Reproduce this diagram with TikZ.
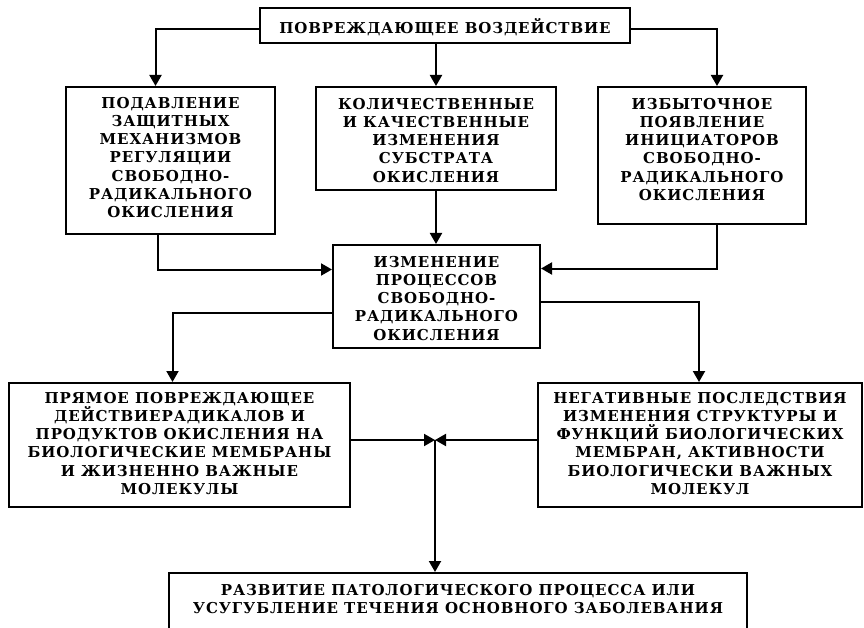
\documentclass[tikz,border=0pt]{standalone}
\usepackage{fontspec}
\newfontfamily\blokfont[LetterSpace=6]{DejaVu Serif}
\usetikzlibrary{arrows.meta}

\begin{document}
\begin{tikzpicture}[x=1pt,y=-1pt,
  blok/.style={draw,line width=2pt,inner sep=0pt},
  tekst/.style={anchor=north,align=center,inner sep=0pt,font=\blokfont\bfseries\fontsize{15}{18.2}\selectfont},
  strelka/.style={line width=2pt,-{Triangle[width=12pt,length=11pt]}}]
\useasboundingbox (0,0) rectangle (864,628);
\clip (0,0) rectangle (864,628);
% boxes
\node[blok,minimum width=370,minimum height=35] (vozd) at (445,25.5) {};
\node[blok,minimum width=209,minimum height=147] (podav) at (170.5,160.5) {};
\node[blok,minimum width=240,minimum height=103] (subst) at (436,138.5) {};
\node[blok,minimum width=208,minimum height=137] (izbyt) at (702,155.5) {};
\node[blok,minimum width=207,minimum height=103] (izmen) at (436.5,296.5) {};
\node[blok,minimum width=341,minimum height=124] (pryam) at (179.5,445) {};
\node[blok,minimum width=324,minimum height=124] (negat) at (700,445) {};
\node[blok,minimum width=578,minimum height=87] (razv) at (458,616.5) {};
% texts
\node[tekst] at ([yshift=-11]vozd.north) {ПОВРЕЖДАЮЩЕЕ ВОЗДЕЙСТВИЕ};
\node[tekst] at ([yshift=-11]podav.north) {ПОДАВЛЕНИЕ\\ЗАЩИТНЫХ\\МЕХАНИЗМОВ\\РЕГУЛЯЦИИ\\СВОБОДНО-\\РАДИКАЛЬНОГО\\ОКИСЛЕНИЯ};
\node[tekst] at ([yshift=-12]subst.north) {КОЛИЧЕСТВЕННЫЕ\\И КАЧЕСТВЕННЫЕ\\ИЗМЕНЕНИЯ\\СУБСТРАТА\\ОКИСЛЕНИЯ};
\node[tekst] at ([yshift=-12]izbyt.north) {ИЗБЫТОЧНОЕ\\ПОЯВЛЕНИЕ\\ИНИЦИАТОРОВ\\СВОБОДНО-\\РАДИКАЛЬНОГО\\ОКИСЛЕНИЯ};
\node[tekst] at ([yshift=-12]izmen.north) {ИЗМЕНЕНИЕ\\ПРОЦЕССОВ\\СВОБОДНО-\\РАДИКАЛЬНОГО\\ОКИСЛЕНИЯ};
\node[tekst] at ([yshift=-10]pryam.north) {ПРЯМОЕ ПОВРЕЖДАЮЩЕЕ\\ДЕЙСТВИЕРАДИКАЛОВ И\\ПРОДУКТОВ ОКИСЛЕНИЯ НА\\БИОЛОГИЧЕСКИЕ МЕМБРАНЫ\\И ЖИЗНЕННО ВАЖНЫЕ\\МОЛЕКУЛЫ};
\node[tekst] at ([yshift=-10]negat.north) {НЕГАТИВНЫЕ ПОСЛЕДСТВИЯ\\ИЗМЕНЕНИЯ СТРУКТУРЫ И\\ФУНКЦИЙ БИОЛОГИЧЕСКИХ\\МЕМБРАН, АКТИВНОСТИ\\БИОЛОГИЧЕСКИ ВАЖНЫХ\\МОЛЕКУЛ};
\node[tekst] at ([yshift=-12]razv.north) {РАЗВИТИЕ ПАТОЛОГИЧЕСКОГО ПРОЦЕССА ИЛИ\\УСУГУБЛЕНИЕ ТЕЧЕНИЯ ОСНОВНОГО ЗАБОЛЕВАНИЯ};
% arrows
\draw[strelka] ([yshift=-4]vozd.west) -| ([xshift=-15]podav.north);
\draw[strelka] (vozd.south -| subst.north) -- (subst.north);
\draw[strelka] ([yshift=-4]vozd.east) -| ([xshift=15]izbyt.north);
\draw[strelka] (subst.south) -- (subst.south |- izmen.north);
\draw[strelka] ([xshift=-13]podav.south) |- ([yshift=27]izmen.west);
\draw[strelka] ([xshift=15]izbyt.south) |- ([yshift=28]izmen.east);
\draw[strelka] ([yshift=-16]izmen.west) -| ([xshift=-7]pryam.north);
\draw[strelka] ([yshift=-5]izmen.east) -| ([xshift=-1]negat.north);
\coordinate (uzel) at (435,440);
\draw[strelka] ([yshift=5]pryam.east) -- (uzel);
\draw[strelka] ([yshift=5]negat.west) -- (uzel);
\draw[strelka] (uzel) -- (uzel |- razv.north);
\end{tikzpicture}
\end{document}
